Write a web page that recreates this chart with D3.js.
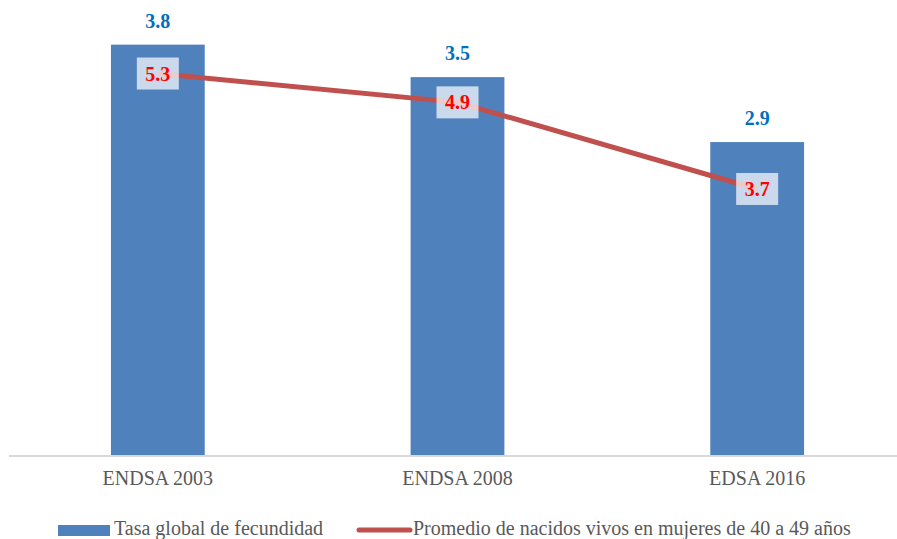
<!DOCTYPE html>
<html>
<head>
<meta charset="utf-8">
<script src="https://cdn.jsdelivr.net/npm/d3@7"></script>
<style>
  body { margin: 0; background: #fff; }
  svg text { font-family: "Liberation Serif", "DejaVu Serif", serif; }
</style>
</head>
<body>
<div id="chart"></div>
<script>
var categories = ['ENDSA 2003', 'ENDSA 2008', 'EDSA 2016'];
var tasaGlobal = [3.8, 3.5, 2.9];
var promedioNacidos = [5.3, 4.9, 3.7];
var seriesNames = ['Tasa global de fecundidad', 'Promedio de nacidos vivos en mujeres de 40 a 49 años'];

var width = 897, height = 539;
var svg = d3.select('#chart').append('svg').attr('width', width).attr('height', height);

var x = d3.scaleBand().domain(categories).range([8, 907]).paddingInner(0.687).paddingOuter(0.3435);
var y = d3.scaleLinear().domain([0, 4]).range([456, 23]);
var y2 = d3.scaleLinear().domain([0, 6]).range([456, 23]);

var data = categories.map((c, i) => ({cat: c, bar: tasaGlobal[i], line: promedioNacidos[i]}));

// bars
svg.selectAll('.bar').data(data).enter().append('rect')
    .attr('x', d => x(d.cat)).attr('width', x.bandwidth())
    .attr('y', d => y(d.bar)).attr('height', d => y(0) - y(d.bar))
    .attr('fill', '#4F81BD');

// bar labels
svg.selectAll('.barLabel').data(data).enter().append('text')
    .attr('x', d => x(d.cat) + x.bandwidth() / 2).attr('y', d => y(d.bar) - 17)
    .attr('text-anchor', 'middle').style('font-size', '20px').style('font-weight', 'bold')
    .attr('fill', '#0070C0').text(d => d.bar.toFixed(1));

// x axis
var xAxis = svg.append('g').attr('transform', `translate(0,${y(0)})`)
    .call(d3.axisBottom(x).tickSize(0).tickPadding(15));
xAxis.select('.domain').attr('stroke', '#d9d9d9').attr('stroke-width', 2).attr('d', 'M9,0H897');
xAxis.selectAll('text').style('font-size', '20px').attr('fill', '#595959');

// line
var line = d3.line().x(d => x(d.cat) + x.bandwidth() / 2).y(d => y2(d.line));
svg.append('path').datum(data).attr('d', line)
    .attr('fill', 'none').attr('stroke', '#C0504D').attr('stroke-width', 5);

// line labels
var lbl = svg.selectAll('.lineLabel').data(data).enter().append('g')
    .attr('transform', d => `translate(${x(d.cat) + x.bandwidth() / 2},${y2(d.line)})`);
lbl.append('rect').attr('x', -21).attr('y', -16).attr('width', 42).attr('height', 32)
    .attr('fill', '#fff').attr('fill-opacity', 0.7);
lbl.append('text').attr('y', 7).attr('text-anchor', 'middle')
    .style('font-size', '20px').style('font-weight', 'bold').attr('fill', '#FF0000')
    .text(d => d.line.toFixed(1));

// legend
var legend = svg.append('g');
legend.append('rect').attr('x', 58).attr('y', 525).attr('width', 52).attr('height', 11).attr('fill', '#4F81BD');
legend.append('text').attr('x', 114).attr('y', 535).style('font-size', '20px').attr('fill', '#595959').text(seriesNames[0]);
legend.append('line').attr('x1', 359).attr('x2', 410).attr('y1', 530).attr('y2', 530)
    .attr('stroke', '#C0504D').attr('stroke-width', 5).attr('stroke-linecap', 'round');
legend.append('text').attr('x', 413).attr('y', 535).style('font-size', '20px').attr('fill', '#595959').text(seriesNames[1]);
</script>
</body>
</html>
